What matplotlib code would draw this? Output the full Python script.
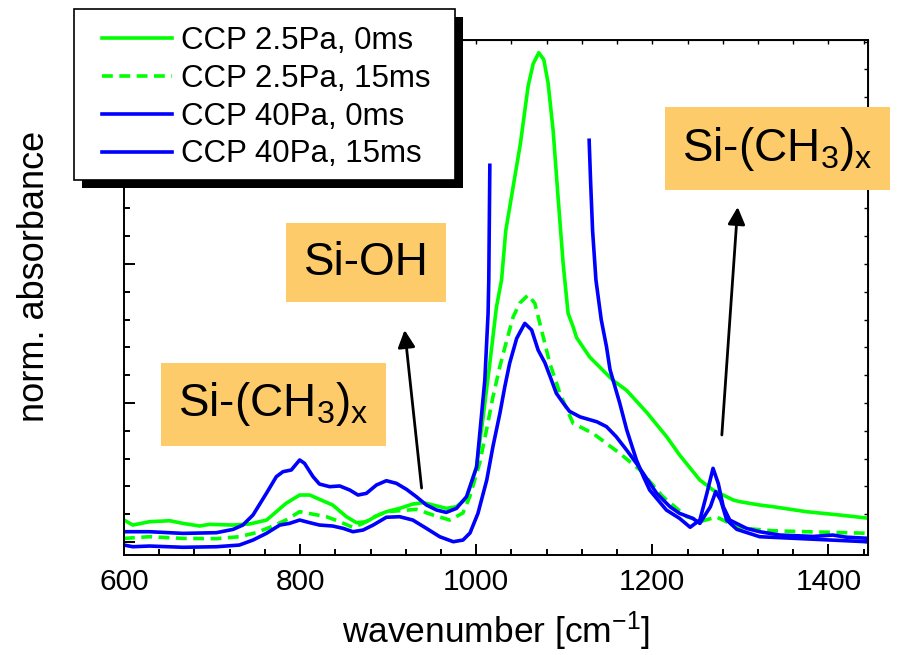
import numpy as np
import matplotlib
matplotlib.use("Agg")
import matplotlib.pyplot as plt
from matplotlib.patches import Rectangle
from matplotlib.ticker import MultipleLocator

plt.rcParams['font.family'] = ['Liberation Sans', 'DejaVu Sans']
plt.rcParams['mathtext.default'] = 'regular'

nan = float('nan')

# CCP 2.5Pa, 0ms
g0_x = [600, 610, 629, 652, 667, 686, 697, 724, 743, 762, 773, 784, 799.5, 811, 822,
        837, 852.6, 864, 875.3, 886.7, 898, 913, 928, 939.7, 951, 966, 977.6, 989,
        1000.3, 1007.5, 1015.5, 1023, 1028.8, 1033.6, 1050.3, 1059, 1064.7, 1071.1,
        1076.8, 1081.7, 1087.4, 1093, 1098.8, 1104.4, 1110, 1114, 1129, 1155, 1171,
        1194, 1216.6, 1231, 1254, 1269, 1292, 1299.5, 1322, 1337, 1375, 1413, 1450]
g0_y = [0.158, 0.122, 0.146, 0.153, 0.134, 0.115, 0.127, 0.122, 0.13, 0.158, 0.218,
        0.278, 0.338, 0.338, 0.307, 0.266, 0.182, 0.139, 0.146, 0.187, 0.218, 0.242,
        0.273, 0.283, 0.266, 0.242, 0.254, 0.314, 0.54, 0.88, 1.286, 1.69, 1.885, 2.24,
        2.87, 3.28, 3.44, 3.52, 3.47, 3.30, 2.96, 2.48, 2.0, 1.645, 1.55, 1.47, 1.33,
        1.165, 1.09, 0.93, 0.755, 0.626, 0.446, 0.374, 0.302, 0.29, 0.266, 0.254, 0.218,
        0.194, 0.168]

# CCP 2.5Pa, 15ms
g15_x = [600, 629, 667, 705, 731, 750, 765.5, 784, 799.5, 814.7, 830, 845, 860, 871.5,
         883, 898, 913, 932, 951, 970, 985, 992.7, 1004, 1011.7, 1019, 1026.8, 1034.8,
         1042, 1049.5, 1059, 1066.6, 1072.3, 1083.6, 1091.3, 1095, 1110, 1133, 1163,
         1186, 1212, 1239, 1256, 1273, 1292, 1299.5, 1337, 1375, 1450]
g15_y = [0.026, 0.038, 0.026, 0.024, 0.038, 0.067, 0.105, 0.158, 0.218, 0.2, 0.182,
         0.146, 0.105, 0.134, 0.178, 0.218, 0.225, 0.235, 0.194, 0.158, 0.209, 0.326,
         0.568, 0.806, 1.043, 1.26, 1.453, 1.62, 1.719, 1.777, 1.717, 1.573, 1.286,
         1.142, 1.07, 0.854, 0.78, 0.638, 0.518, 0.326, 0.182, 0.15, 0.18, 0.122, 0.101,
         0.081, 0.074, 0.062]

# CCP 40Pa, 0ms (main band runs off scale)
b0_x = [600, 629, 667, 705, 724, 735, 746.5, 761.7, 773, 780.6, 790, 799.5, 805, 814.7,
        822, 833.6, 845, 856.4, 865.8, 875.3, 886.7, 898, 909.4, 920.8, 932, 943.5, 955,
        966, 977.6, 989, 1000.5, 1009.8, 1013.5, 1014.3, 1015.5, nan, 1128.3, 1129.9,
        1132.2, 1136, 1142, 1148, 1152, 1157.5, 1163, 1171, 1182, 1190, 1197, 1216,
        1231, 1243, 1254, 1262, 1269, 1275, 1280.6, 1288, 1307, 1322, 1345, 1383, 1405,
        1420, 1450]
b0_y = [0.074, 0.074, 0.062, 0.067, 0.091, 0.122, 0.194, 0.35, 0.47, 0.506, 0.518, 0.59,
        0.566, 0.47, 0.417, 0.398, 0.403, 0.374, 0.338, 0.35, 0.41, 0.441, 0.422, 0.379,
        0.326, 0.266, 0.23, 0.213, 0.242, 0.326, 0.54, 1.165, 1.645, 1.885, 2.71, nan,
        2.89, 2.60, 2.24, 1.885, 1.60, 1.405, 1.24, 1.12, 1.0, 0.806, 0.59, 0.47, 0.374,
        0.23, 0.17, 0.106, 0.158, 0.35, 0.53, 0.42, 0.254, 0.158, 0.098, 0.074, 0.05,
        0.04, 0.05, 0.035, 0.025]

# CCP 40Pa, 15ms
b15_x = [600, 610, 629, 667, 705, 731, 746.5, 761.7, 777, 788, 799.5, 811, 822, 837, 849,
         860, 871.5, 883, 898, 913, 928, 943.5, 958.6, 974, 985, 993, 1002, 1012, 1019,
         1027, 1032.5, 1038, 1046, 1055.2, 1063, 1070.4, 1078, 1084, 1091, 1098.8, 1106,
         1118, 1137, 1148, 1159, 1171, 1182, 1193.5, 1205, 1220, 1231, 1246, 1254, 1266,
         1272, 1277.7, 1284.5, 1296, 1322, 1383, 1450]
b15_y = [-0.022, -0.034, -0.029, -0.038, -0.034, -0.022, 0.014, 0.062, 0.122, 0.134,
         0.158, 0.139, 0.122, 0.115, 0.098, 0.074, 0.086, 0.122, 0.178, 0.182, 0.158,
         0.098, 0.038, 0.002, 0.014, 0.065, 0.206, 0.446, 0.686, 0.928, 1.117, 1.286,
         1.465, 1.573, 1.525, 1.38, 1.29, 1.19, 1.07, 1.0, 0.94, 0.90, 0.865, 0.83,
         0.758, 0.66, 0.566, 0.458, 0.35, 0.254, 0.206, 0.17, 0.134, 0.254, 0.362, 0.302,
         0.158, 0.091, 0.038, 0.02, 0.0]

labels = ['CCP 2.5Pa, 0ms', 'CCP 2.5Pa, 15ms', 'CCP 40Pa, 0ms', 'CCP 40Pa, 15ms']

green = '#00ff00'
blue = '#0000ff'
box_color = '#fecb6a'

fig = plt.figure(figsize=(9.24, 6.55), dpi=100)
ax = fig.add_axes([124 / 924, 1 - 555 / 655, (868 - 124) / 924, (555 - 40) / 655])

lw = 2.6
l1, = ax.plot(g0_x, g0_y, color=green, lw=lw)
l2, = ax.plot(g15_x, g15_y, color=green, lw=lw, dashes=(3, 1.8))
l3, = ax.plot(b0_x, b0_y, color=blue, lw=lw)
l4, = ax.plot(b15_x, b15_y, color=blue, lw=lw)

ax.set_xlim(600, 1445)
ax.set_ylim(-0.0935, 3.6115)

ax.xaxis.set_major_locator(MultipleLocator(200))
ax.xaxis.set_minor_locator(MultipleLocator(40))
ax.yaxis.set_major_locator(MultipleLocator(1))
ax.yaxis.set_minor_locator(MultipleLocator(0.2))
ax.set_yticklabels([])
ax.tick_params(which='both', direction='in', width=1.4)
ax.tick_params(which='major', length=8, labelsize=21.5, pad=9)
ax.tick_params(which='minor', length=4.5)
for s in ax.spines.values():
    s.set_linewidth(1.4)

# small ticks on top and right
top = ax.secondary_xaxis('top')
top.xaxis.set_major_locator(MultipleLocator(40))
top.tick_params(direction='in', length=3, width=1.0, labeltop=False)
right = ax.secondary_yaxis('right')
right.yaxis.set_major_locator(MultipleLocator(0.2))
right.tick_params(direction='in', length=3, width=1.0, labelright=False)

ax.set_xlabel('wavenumber [cm$^{-1}$]', fontsize=25.5, va='baseline')
ax.xaxis.set_label_coords(0.5, -0.171)
ax.set_ylabel('norm. absorbance', fontsize=26)
ax.yaxis.set_label_coords(-0.097, 0.54)

# labelled bands
txt_kw = dict(fontsize=33, ha='center', va='center', zorder=6, clip_on=False,
              bbox=dict(boxstyle='square,pad=0.38', fc=box_color, ec='none'))
ax.text(770, 0.99, 'Si-(CH$_3$)$_x$', **txt_kw)
ax.text(875, 2.01, 'Si-OH', **txt_kw)
ax.text(1342, 2.83, 'Si-(CH$_3$)$_x$', **txt_kw)

arrow_kw = dict(arrowstyle='-|>', color='black', lw=2, mutation_scale=26,
                shrinkA=0, shrinkB=0)
ax.annotate('', xy=(918.7, 1.525), xytext=(938, 0.388), arrowprops=arrow_kw)
ax.annotate('', xy=(1297, 2.41), xytext=(1279, 0.77), arrowprops=arrow_kw)

# legend without its own frame; frame and hard shadow drawn below
leg = ax.legend([l1, l2, l3, l4], labels, loc='upper left',
                bbox_to_anchor=(101.5 / 924, 1 - 26 / 655),
                bbox_transform=fig.transFigure, borderaxespad=0, borderpad=0,
                fontsize=22.5, frameon=False, handlelength=2.27, handletextpad=0.28,
                labelspacing=0.25)
leg.set_zorder(10)

fig.canvas.draw()
bb = leg.get_window_extent()
fx0 = bb.x0 - 27.5
fy0 = bb.y0 - 11
fw = bb.width + 27.5 + 24
fh = bb.height + 11 + 17
shadow = Rectangle((fx0 + 8, fy0 - 8), fw, fh, transform=None, facecolor='black',
                   edgecolor='none', zorder=9, clip_on=False)
frame = Rectangle((fx0, fy0), fw, fh, transform=None, facecolor='white',
                  edgecolor='black', lw=1.2, zorder=9.5, clip_on=False)
ax.add_artist(shadow)
ax.add_artist(frame)

fig.savefig('out.png', dpi=100)
